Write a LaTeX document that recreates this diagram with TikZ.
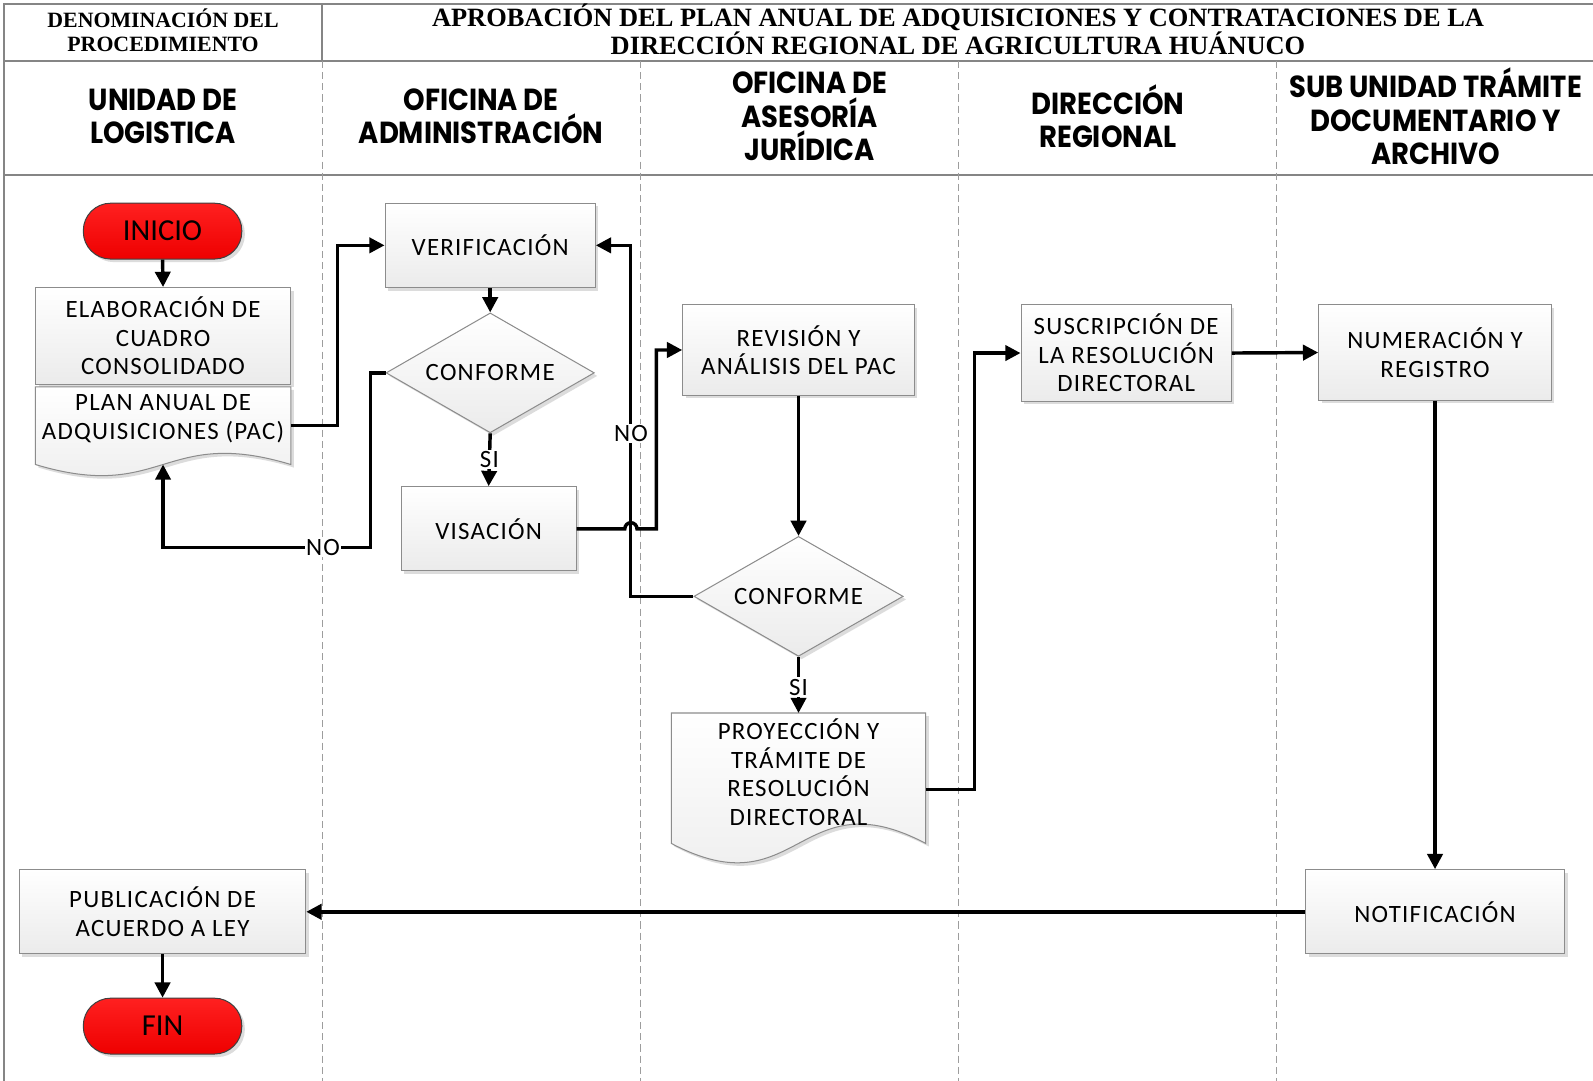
\documentclass[tikz,border=0pt]{standalone}
\usepackage{fontspec}
\setmainfont{Carlito}[LetterSpace=5]
\newfontfamily\termfont{Carlito}
\newfontfamily\lanefont{Poppins}[FakeStretch=0.9]
\newfontfamily\headserif{Liberation Serif}
\usetikzlibrary{arrows.meta,shadows,calc,shapes.geometric}

\definecolor{framegray}{HTML}{858585}
\definecolor{boxedge}{HTML}{8C8C8C}
\definecolor{boxbottom}{HTML}{EBEBEB}
\definecolor{termtop}{HTML}{FF2020}
\definecolor{termbottom}{HTML}{EE0000}

\begin{document}
\begin{tikzpicture}[x=1pt,y=-1pt,
  frame/.style={draw=framegray,line width=1.6pt},
  lane/.style={draw=framegray!80,line width=1pt,dash pattern=on 7pt off 4pt},
  softshadow/.style={drop shadow={shadow xshift=3pt,shadow yshift=-3pt,opacity=0.3,fill=black!45}},
  bodyfont/.style={font=\fontsize{24.5}{28}\selectfont},
  procbox/.style={rectangle,draw=boxedge,line width=1pt,top color=white,bottom color=boxbottom,
    softshadow,align=center,inner sep=2pt,bodyfont},
  decision/.style={diamond,aspect=1.737,draw=boxedge,line width=1pt,top color=white,bottom color=boxbottom,
    softshadow,inner sep=0pt,align=center,bodyfont},
  terminal/.style={rectangle,rounded corners=27pt,draw=black!75,line width=1pt,
    top color=termtop,bottom color=termbottom,softshadow,minimum width=156pt,minimum height=55pt,
    font=\termfont\fontsize{30}{34}\selectfont},
  docbody/.style={rectangle,draw=none,inner sep=0pt},
  docshape/.style={draw=boxedge,line width=1pt,top color=white,bottom color=boxbottom,softshadow},
  doctext/.style={align=center,inner sep=0pt,bodyfont},
  conn/.style={line width=3.4pt,-{Triangle[length=15pt,width=15pt]}},
  flowlabel/.style={fill=white,inner sep=1.5pt,bodyfont},
  lanehead/.style={align=center,font=\lanefont\bfseries\fontsize{30}{33}\selectfont},
  headtitle/.style={align=center,font=\headserif\bfseries\fontsize{26}{28}\selectfont},
  headsmall/.style={align=center,font=\headserif\bfseries\fontsize{21.5}{24}\selectfont}
]
\useasboundingbox (0,0) rectangle (1568,1064);
\fill[white] (0,0) rectangle (1568,1064);

% table frame and swimlane separators
\draw[frame] (1568,4) -- (4,4) -- (4,1064);
\draw[frame] (4,60) -- (1568,60);
\draw[frame] (4,172) -- (1568,172);
\draw[frame] (317,4) -- (317,60);
\foreach \x in {317,630,943,1256} \draw[lane] (\x,60) -- (\x,1064);

% heading rows
\node[headsmall] (denom) at (160.5,30) {DENOMINACIÓN DEL\\PROCEDIMIENTO};
\node[headtitle] (title) at (943,29) {APROBACIÓN DEL PLAN ANUAL DE ADQUISICIONES Y CONTRATACIONES DE LA\\DIRECCIÓN REGIONAL DE AGRICULTURA HUÁNUCO};
\node[lanehead] (laneA) at (160.5,114.5) {UNIDAD DE\\LOGISTICA};
\node[lanehead] (laneB) at (473.5,114.5) {OFICINA DE\\ADMINISTRACIÓN};
\node[lanehead] (laneC) at (797,114.5) {OFICINA DE\\ASESORÍA\\JURÍDICA};
\node[lanehead] (laneD) at (1090.5,114.5) {DIRECCIÓN\\REGIONAL};
\node[lanehead] (laneE) at (1413,114.5) {SUB UNIDAD TRÁMITE\\DOCUMENTARIO Y\\ARCHIVO};

% flow steps
\node[terminal] (ini) at (160,227.5) {INICIO};
\node[procbox,minimum width=251pt,minimum height=95pt] (elab) at (160.5,330.5) {ELABORACIÓN DE\\CUADRO\\CONSOLIDADO};
\node[docbody,minimum width=251pt,minimum height=76pt] (pac) at (160.5,419) {};
\path[docshape] (pac.north west) -- (pac.north east) -- (pac.south east)
  .. controls ($(pac.south)+(0,-38)$) and ($(pac.south)+(0,38)$) .. (pac.south west) -- cycle;
\node[doctext] (pactext) at ($(pac.center)+(0,-7)$) {PLAN ANUAL DE\\ADQUISICIONES (PAC)};

\node[procbox,minimum width=207pt,minimum height=83pt] (ver) at (482.5,241.5) {VERIFICACIÓN};
\node[decision,minimum width=205pt,minimum height=118pt] (dA) at (482.5,367) {CONFORME};
\node[procbox,minimum width=172pt,minimum height=83pt] (vis) at (481,520.5) {VISACIÓN};

\node[procbox,minimum width=228pt,minimum height=89pt] (rev) at (786,344.5) {REVISIÓN Y\\ANÁLISIS DEL PAC};
\node[decision,minimum width=206pt,minimum height=118pt] (dB) at (786,587) {CONFORME};
\node[docbody,minimum width=250pt,minimum height=128pt] (proy) at (786,766) {};
\path[docshape] (proy.north west) -- (proy.north east) -- (proy.south east)
  .. controls ($(proy.south)+(0,-66)$) and ($(proy.south)+(0,66)$) .. (proy.south west) -- cycle;
\node[doctext] (proytext) at ($(proy.center)+(0,-6)$) {PROYECCIÓN Y\\TRÁMITE DE\\RESOLUCIÓN\\DIRECTORAL};

\node[procbox,minimum width=207pt,minimum height=95pt] (sus) at (1108.5,347.5) {SUSCRIPCIÓN DE\\LA RESOLUCIÓN\\DIRECTORAL};
\node[procbox,minimum width=229pt,minimum height=94pt] (num) at (1412.5,347) {NUMERACIÓN Y\\REGISTRO};
\node[procbox,minimum width=255pt,minimum height=83pt] (notif) at (1412.5,897.5) {NOTIFICACIÓN};
\node[procbox,minimum width=282pt,minimum height=83pt] (pub) at (160,897.5) {PUBLICACIÓN DE\\ACUERDO A LEY};
\node[terminal] (fin) at (160,1010) {FIN};

% connectors
\draw[conn] (ini.south) -- (elab.north);
\draw[conn] (pac.east) -- ++(46,0) |- (ver.west);
\draw[conn] (ver.south) -- (dA.north);
\draw[conn] (dA.west) -- ++(-15,0) -- ++(0,172) -| (pac.south);
\node[flowlabel] (noA) at (318,539) {NO};
\draw[conn] (dA.south) -- node[flowlabel] (siA) {SI} (vis.north);
\draw[conn] (dB.west) -- ++(-62,0) |- (ver.east);
\node[flowlabel] (noB) at (621,427) {NO};
\draw[conn] (vis.east) -- (615,520.5) arc (180:360:6) -- (646,520.5) |- (rev.west);
\draw[conn] (rev.south) -- (dB.north);
\draw[conn] (dB.south) -- node[flowlabel,pos=0.54] (siB) {SI} (proy.north);
\draw[conn] ($(proy.east)+(0,11)$) -- ++(48,0) |- (sus.west);
\draw[conn] (sus.east) -- (num.west);
\draw[conn] (num.south) -- (notif.north);
\draw[conn] (notif.west) -- (pub.east);
\draw[conn] (pub.south) -- (fin.north);
\end{tikzpicture}
\end{document}
